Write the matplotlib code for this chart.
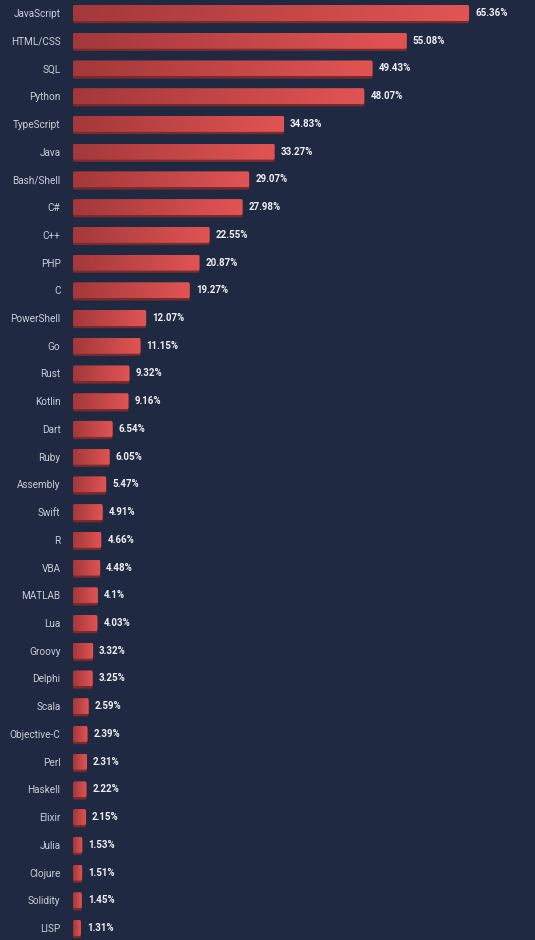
import numpy as np
import matplotlib.pyplot as plt
from matplotlib.patches import FancyBboxPatch
from matplotlib.colors import LinearSegmentedColormap

langues = ["JavaScript", "HTML/CSS", "SQL", "Python", "TypeScript", "Java",
           "Bash/Shell", "C#", "C++", "PHP", "C", "PowerShell", "Go", "Rust",
           "Kotlin", "Dart", "Ruby", "Assembly", "Swift", "R", "VBA", "MATLAB",
           "Lua", "Groovy", "Delphi", "Scala", "Objective-C", "Perl", "Haskell",
           "Elixir", "Julia", "Clojure", "Solidity", "LISP"]
valeurs = [65.36, 55.08, 49.43, 48.07, 34.83, 33.27, 29.07, 27.98, 22.55,
           20.87, 19.27, 12.07, 11.15, 9.32, 9.16, 6.54, 6.05, 5.47, 4.91,
           4.66, 4.48, 4.1, 4.03, 3.32, 3.25, 2.59, 2.39, 2.31, 2.22, 2.15,
           1.53, 1.51, 1.45, 1.31]
etiquettes = ["65.36%", "55.08%", "49.43%", "48.07%", "34.83%", "33.27%",
              "29.07%", "27.98%", "22.55%", "20.87%", "19.27%", "12.07%",
              "11.15%", "9.32%", "9.16%", "6.54%", "6.05%", "5.47%", "4.91%",
              "4.66%", "4.48%", "4.1%", "4.03%", "3.32%", "3.25%", "2.59%",
              "2.39%", "2.31%", "2.22%", "2.15%", "1.53%", "1.51%", "1.45%",
              "1.31%"]

fond = '#1f2a42'
degrade = LinearSegmentedColormap.from_list('rouge', ['#a3383a', '#e25454'])

W, H = 535, 940
fig = plt.figure(figsize=(W/100, H/100), dpi=100, facecolor=fond)
ax = fig.add_axes([73/W, 0, (W-73)/W, 1])
ax.set_facecolor(fond)

px_par_pct = 6.06
ax.set_xlim(0, (W-73)/px_par_pct)
pas = (928-13)/(len(langues)-1)
ax.set_ylim(len(langues)-1 + (H-928)/pas, -13/pas)

h = 16/pas  # hauteur de barre
ombre = 2.2/pas
grad = np.linspace(0, 1, 256).reshape(1, -1)

for i, (nom, v, txt) in enumerate(zip(langues, valeurs, etiquettes)):
    # ombre du bas
    sh = FancyBboxPatch((0, i-h/2+ombre), v, h, boxstyle="round,pad=0,rounding_size=0.25",
                        mutation_aspect=0.3, fc='#7d2a2d', ec='none', zorder=1)
    ax.add_patch(sh)
    bar = FancyBboxPatch((0, i-h/2), v, h, boxstyle="round,pad=0,rounding_size=0.25",
                         mutation_aspect=0.3, fc='none', ec='none', zorder=2)
    ax.add_patch(bar)
    im = ax.imshow(grad, cmap=degrade, aspect='auto', extent=[0, v, i+h/2, i-h/2],
                   zorder=2, interpolation='bilinear')
    im.set_clip_path(bar)
    ax.text(v + 1.0, i, txt, color='#eef0f3', fontsize=7, fontweight='bold',
            va='center', ha='left', family='Roboto')

ax.set_yticks(range(len(langues)))
ax.set_yticklabels(langues, color='#c9cdd5', fontsize=7.2, family='Roboto')
ax.tick_params(axis='y', length=0, pad=9)
ax.set_xticks([])
for s in ax.spines.values():
    s.set_visible(False)

plt.savefig('out.png', dpi=100, facecolor=fond)
